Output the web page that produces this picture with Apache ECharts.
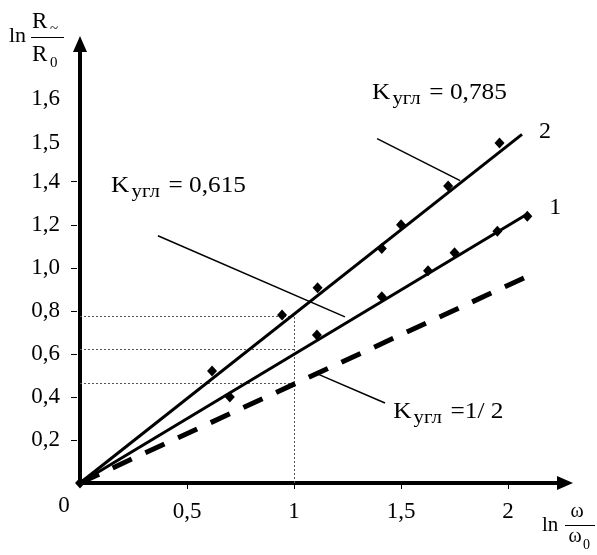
<!DOCTYPE html>
<html>
<head>
<meta charset="utf-8">
<script src="https://cdn.jsdelivr.net/npm/echarts@6/dist/echarts.min.js"></script>
</head>
<body style="margin: 0">
<div id="container" style="width: 597px; height: 555px"></div>
<script type="text/javascript">
// fitted lines (from origin to their end points)
var line1 = [[0, 0], [2.09, 1.25]];
var line2 = [[0, 0], [2.065, 1.62]];
var lineHalf = [[0, 0], [2.09, 0.96]];
// measured points
var pts1 = [[0, 0], [0.70, 0.40], [1.107, 0.688], [1.41, 0.865], [1.626, 0.986], [1.75, 1.07], [1.95, 1.17], [2.09, 1.24]];
var pts2 = [[0.617, 0.521], [0.944, 0.781], [1.11, 0.907], [1.41, 1.09], [1.50, 1.20], [1.72, 1.38], [1.96, 1.58]];
// dotted guides at ln(w/w0) = 1
var guideX = 1;
var guideY = [0.777, 0.62, 0.465];
// ticks
var xTicks = [0.5, 1, 1.5, 2];
var xTickLabels = ['0,5', '1', '1,5', '2'];
var yTicks = [0.2, 0.4, 0.6, 0.8, 1.0, 1.2, 1.4];
var yLabelValues = [0.2, 0.4, 0.6, 0.8, 1.0, 1.2, 1.4, 1.58, 1.785];
var yLabelTexts = ['0,2', '0,4', '0,6', '0,8', '1,0', '1,2', '1,4', '1,5', '1,6'];
// annotations
var noteValues = [' = 0,785', ' = 0,615', ' =1/ 2'];
var notePos = [[1.364, 1.814], [0.145, 1.381], [1.463, 0.330]];
var leaders = [
    [[1.388, 1.60], [1.776, 1.405]],
    [[0.364, 1.149], [1.238, 0.772]],
    [[1.098, 0.512], [1.425, 0.372]]
];
var curveNames = ['2', '1'];
var curveNamePos = [[2.173, 1.633], [2.22, 1.279]];

var FONT = 'Liberation Serif';

function pick(vals, texts) {
    return function (v) {
        for (var i = 0; i < vals.length; i++) {
            if (Math.abs(vals[i] - v) < 1e-6) return texts[i];
        }
        return '';
    };
}

var guideData = guideY.map(function (y) { return { coords: [[0, y], [guideX, y]] }; });
guideData.push({ coords: [[guideX, 0], [guideX, guideY[0]]] });

var dom = document.getElementById('container');
var myChart = echarts.init(dom);

var option = {
    animation: false,
    grid: { left: 80, right: 32, top: 44, bottom: 72 },
    xAxis: {
        type: 'value', min: 0, max: 2.266,
        splitLine: { show: false },
        axisLine: {
            show: true, symbol: ['none', 'triangle'], symbolSize: [14, 16],
            lineStyle: { color: '#000', width: 4 }
        },
        axisTick: { show: true, length: 6, customValues: xTicks, lineStyle: { color: '#000', width: 1 } },
        axisLabel: {
            customValues: xTicks, formatter: pick(xTicks, xTickLabels),
            margin: 17, color: '#000', fontFamily: FONT, fontSize: 23
        }
    },
    yAxis: [{
        type: 'value', min: 0, max: 2.04,
        splitLine: { show: false },
        axisLine: {
            show: true, symbol: ['none', 'triangle'], symbolSize: [14, 16],
            lineStyle: { color: '#000', width: 4 }
        },
        axisTick: { show: false },
        axisLabel: {
            customValues: yLabelValues, formatter: pick(yLabelValues, yLabelTexts),
            margin: 20, color: '#000', fontFamily: FONT, fontSize: 23
        }
    }, {
        type: 'value', min: 0, max: 2.04, offset: 3, position: 'left',
        splitLine: { show: false },
        axisLine: { show: false },
        axisTick: { show: true, length: 6, customValues: yTicks, lineStyle: { color: '#000', width: 1 } },
        axisLabel: { show: false }
    }],
    series: [{
        type: 'lines', coordinateSystem: 'cartesian2d', silent: true,
        data: guideData,
        lineStyle: { color: '#555', width: 1, type: [2, 2], opacity: 1 }
    }, {
        type: 'lines', coordinateSystem: 'cartesian2d', silent: true,
        data: leaders.map(function (c) { return { coords: c }; }),
        lineStyle: { color: '#000', width: 1.5, opacity: 1 }
    }, {
        type: 'line', data: line2, symbol: 'none', silent: true,
        lineStyle: { color: '#000', width: 3 }
    }, {
        type: 'line', data: line1, symbol: 'none', silent: true,
        lineStyle: { color: '#000', width: 3 }
    }, {
        type: 'line', data: lineHalf, symbol: 'none', silent: true,
        lineStyle: { color: '#000', width: 5, type: [21, 15] }
    }, {
        type: 'scatter', data: pts2, symbol: 'diamond', symbolSize: [10, 11], silent: true,
        itemStyle: { color: '#000', opacity: 1 }
    }, {
        type: 'scatter', data: pts1, symbol: 'diamond', symbolSize: [10, 11], silent: true,
        itemStyle: { color: '#000', opacity: 1 }
    }]
};

myChart.setOption(option);

// text placed from data coordinates
var graphics = [];
var richK = {
    k: { fontFamily: FONT, fontSize: 23, fill: '#000' },
    s: { fontFamily: FONT, fontSize: 19, fill: '#000', padding: [12, 2, 0, 2] }
};
notePos.forEach(function (p, i) {
    var px = myChart.convertToPixel({ gridIndex: 0 }, p);
    graphics.push({
        type: 'text', x: px[0], y: px[1], scaleX: 1.1,
        style: {
            text: '{k|K}{s|угл}{k|' + noteValues[i] + '}', rich: richK,
            verticalAlign: 'middle', align: 'left'
        }
    });
});
curveNamePos.forEach(function (p, i) {
    var px = myChart.convertToPixel({ gridIndex: 0 }, p);
    graphics.push({
        type: 'text', x: px[0], y: px[1],
        style: { text: curveNames[i], fontFamily: FONT, fontSize: 24, fill: '#000', align: 'center', verticalAlign: 'middle' }
    });
});
var o = myChart.convertToPixel({ gridIndex: 0 }, [0, 0]);
graphics.push({
    type: 'text', x: o[0] - 16, y: o[1] + 23,
    style: { text: '0', fontFamily: FONT, fontSize: 23, fill: '#000', align: 'center', verticalAlign: 'middle' }
});

// axis names: ln R~/R0 and ln w/w0
function t(x, y, s, size, align) {
    return { type: 'text', x: x, y: y, style: { text: s, fontFamily: FONT, fontSize: size, fill: '#000', align: align || 'left', verticalAlign: 'middle' } };
}
graphics.push(t(9, 36, 'ln', 22));
graphics.push(t(32, 22, 'R', 23));
graphics.push(t(50, 29, '~', 15));
graphics.push({ type: 'line', shape: { x1: 31, y1: 37.5, x2: 64, y2: 37.5 }, style: { stroke: '#000', lineWidth: 1 } });
graphics.push(t(32, 55, 'R', 23));
graphics.push(t(50, 63, '0', 15));

graphics.push(t(542, 525, 'ln', 21));
graphics.push(t(577, 512, 'ω', 20, 'center'));
graphics.push({ type: 'line', shape: { x1: 565, y1: 525.5, x2: 595, y2: 525.5 }, style: { stroke: '#000', lineWidth: 1 } });
graphics.push(t(575, 537, 'ω', 20, 'center'));
graphics.push(t(583, 545, '0', 14));

myChart.setOption({ graphic: graphics });
</script>
</body>
</html>
